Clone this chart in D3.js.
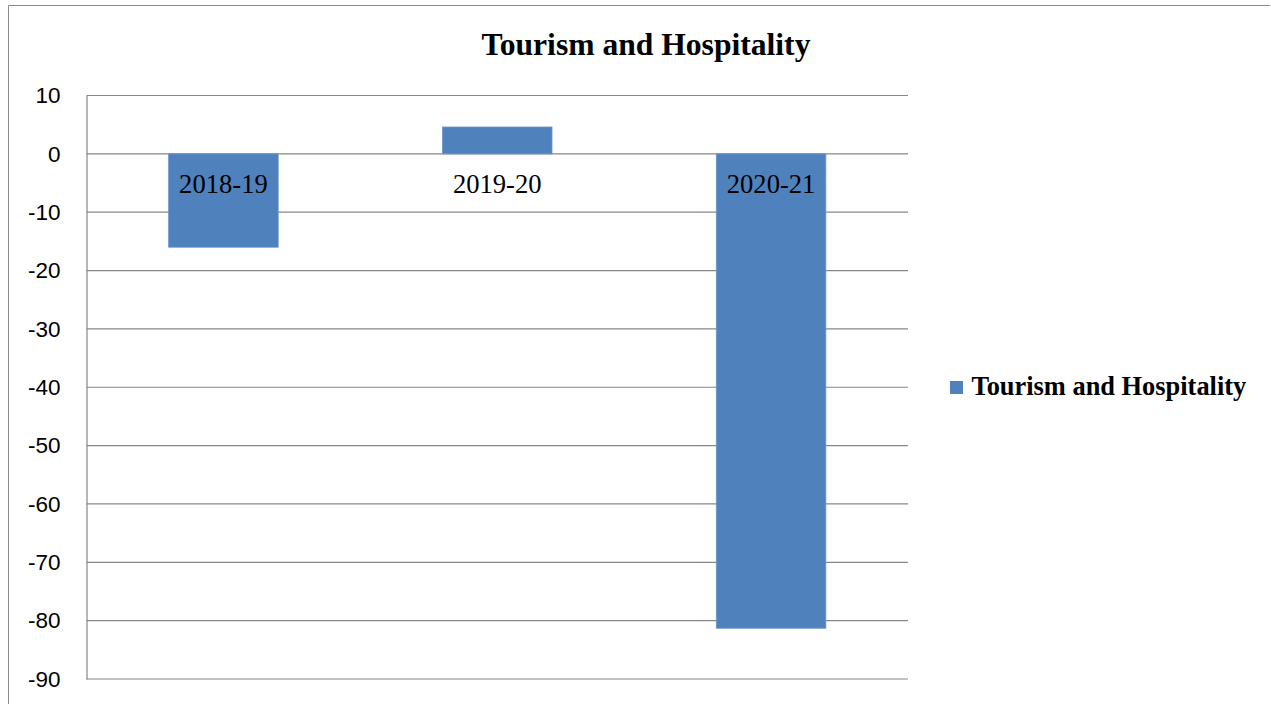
<!DOCTYPE html>
<html>
<head>
<meta charset="utf-8">
<script src="https://cdn.jsdelivr.net/npm/d3@7"></script>
<style>
  html, body { margin: 0; padding: 0; background: #fff; }
  svg { display: block; }
</style>
</head>
<body>
<svg id="chart" width="1271" height="704"></svg>
<script>
// Year-on-year change, Tourism and Hospitality
const categories = ["2018-19", "2019-20", "2020-21"];
const values = [-16.0, 4.6, -81.3];
const tickValues = [10, 0, -10, -20, -30, -40, -50, -60, -70, -80, -90];
const seriesName = "Tourism and Hospitality";
const chartTitle = "Tourism and Hospitality";

const svg = d3.select("#chart");
const gridColor = "#878787";
const barColor = "#4F81BD";

const plot = { left: 86.5, right: 908, top: 95.5, bottom: 679 };

// outer frame (top and left edges visible)
svg.append("path")
  .attr("d", "M8.5,704 L8.5,5.5 L1270,5.5")
  .attr("fill", "none")
  .attr("stroke", "#8c8c8c")
  .attr("stroke-width", 1);

const y = d3.scaleLinear().domain([-90, 10]).range([plot.bottom, plot.top]);
const x = d3.scaleBand().domain(categories)
  .range([plot.left, plot.right])
  .paddingInner(0.6).paddingOuter(0.3);

// horizontal gridlines
svg.append("g").selectAll("line")
  .data(tickValues)
  .join("line")
  .attr("x1", plot.left).attr("x2", plot.right)
  .attr("y1", d => y(d)).attr("y2", d => y(d))
  .attr("stroke", gridColor).attr("stroke-width", 1.2);

// value axis, plain hyphen for negatives
const yAxis = d3.axisLeft(y).tickValues(tickValues)
  .tickFormat(d => String(d))
  .tickSize(0).tickPadding(26);
const ga = svg.append("g").attr("transform", `translate(${plot.left},0)`).call(yAxis);
ga.select(".domain").attr("stroke", gridColor).attr("stroke-width", 1.2);
ga.selectAll("text")
  .attr("font-family", "'Liberation Sans', Arial, sans-serif")
  .attr("font-size", 22.5)
  .attr("fill", "#000");

// bars
svg.append("g").selectAll("rect")
  .data(categories.map((c, i) => ({ c, v: values[i] })))
  .join("rect")
  .attr("x", d => x(d.c))
  .attr("width", x.bandwidth())
  .attr("y", d => y(Math.max(0, d.v)))
  .attr("height", d => Math.abs(y(d.v) - y(0)))
  .attr("fill", barColor)
  .attr("stroke", "#6b95c9")
  .attr("stroke-width", 0.8);

// category labels sit just below the zero line
svg.append("g").selectAll("text")
  .data(categories)
  .join("text")
  .attr("x", d => x(d) + x.bandwidth() / 2)
  .attr("y", y(0) + 39)
  .attr("text-anchor", "middle")
  .attr("font-family", "'Liberation Serif', 'Times New Roman', serif")
  .attr("font-size", 26.6)
  .attr("fill", "#000")
  .text(d => d);

// title
svg.append("text")
  .attr("x", 646).attr("y", 55)
  .attr("text-anchor", "middle")
  .attr("font-family", "'Liberation Serif', 'Times New Roman', serif")
  .attr("font-weight", "bold")
  .attr("font-size", 31.6)
  .attr("fill", "#000")
  .text(chartTitle);

// legend
const lg = svg.append("g").attr("transform", "translate(950,381)");
lg.append("rect").attr("width", 13).attr("height", 13).attr("fill", barColor);
lg.append("text")
  .attr("x", 21.5).attr("y", 14)
  .attr("font-family", "'Liberation Serif', 'Times New Roman', serif")
  .attr("font-weight", "bold")
  .attr("font-size", 26.4)
  .attr("fill", "#000")
  .text(seriesName);
</script>
</body>
</html>
